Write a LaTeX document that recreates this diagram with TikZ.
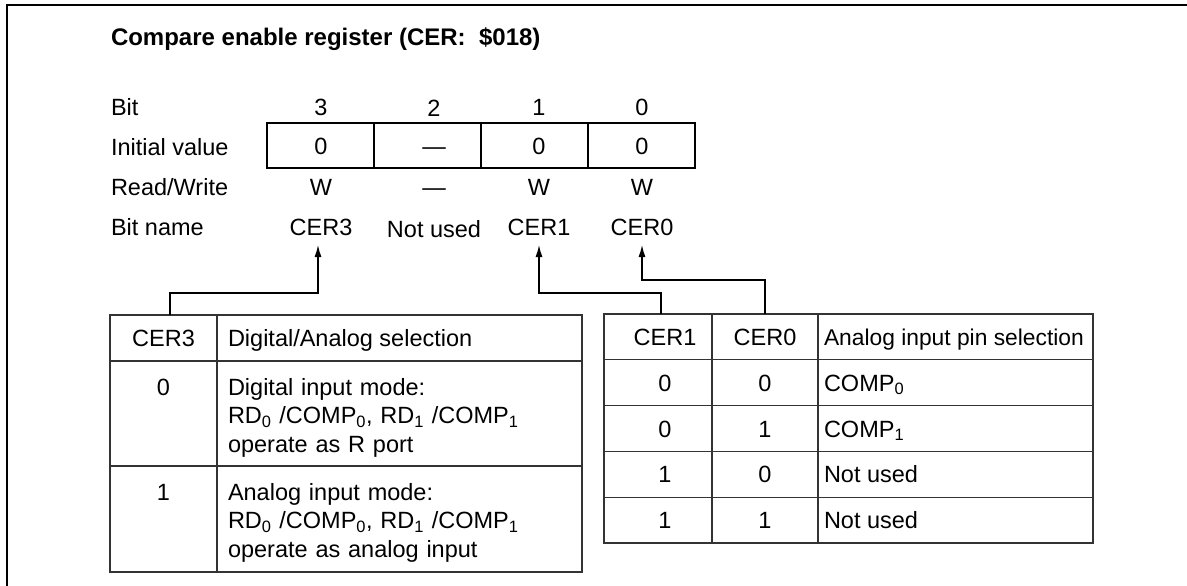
\documentclass[tikz,border=0pt]{standalone}
\usepackage{fontspec}
\setmainfont{Liberation Sans}
\usetikzlibrary{positioning, arrows.meta}

\newcommand{\lowidx}[1]{\textsubscript{#1}}

\begin{document}
\begin{tikzpicture}[
x=1pt, y=-1pt,
font=\fontsize{23.5}{28.5}\selectfont,
every node/.style={inner sep=0pt, outer sep=0pt, text height=17pt, text depth=0pt},
lbl/.style={anchor=base west},
val/.style={anchor=base},
namebox/.style={anchor=base, inner ysep=10pt},
cellleft/.style={anchor=west},
multi/.style={anchor=base west, text width=350pt, align=left},
regcell/.style={draw, line width=1.3pt, minimum width=107pt, minimum height=45pt},
tabcell/.style={draw=black!80, line width=1.3pt, minimum height=45.8pt},
conn/.style={-{Latex[length=12pt, width=7pt]}, line width=1.3pt},
frameline/.style={line width=2pt}
]
\useasboundingbox (0,0) rectangle (1187,586);

% frame, open on the right and at the bottom
\draw[frameline] (7,586) -- (7,5) -- (1187,5);

\node[lbl, font=\fontsize{24}{28.5}\selectfont\bfseries] (cer_title) at (111,46) {Compare enable register (CER:\ \ \$018)};

% rows and columns of the register
\coordinate (row_bit) at (0,115);
\coordinate (row_rw) at (0,195);
\coordinate (row_name) at (0,235);
\coordinate (col3) at (321,0);
\coordinate (col2) at (434,0);
\coordinate (col1) at (539,0);
\coordinate (col0) at (642,0);

\node[lbl] (cer_lbit) at (111,115) {Bit};
\node[lbl] (cer_linit) at (111,155) {Initial value};
\node[lbl] (cer_lrw) at (111,195) {Read/Write};
\node[lbl] (cer_lname) at (111,235) {Bit name};

\node[regcell, anchor=north west] (cer_reg3) at (267,123) {};
\node[regcell, right=0pt of cer_reg3] (cer_reg2) {};
\node[regcell, right=0pt of cer_reg2] (cer_reg1) {};
\node[regcell, right=0pt of cer_reg1] (cer_reg0) {};

\node[val] (cer_bit3) at (col3 |- row_bit) {3};
\node[val, yshift=-2pt] (cer_bit2) at (col2 |- row_bit) {2};
\node[val] (cer_bit1) at (col1 |- row_bit) {1};
\node[val] (cer_bit0) at (col0 |- row_bit) {0};

\node (cer_init3) at (col3 |- cer_reg3) {0};
\node (cer_init2) at (col2 |- cer_reg2) {—};
\node (cer_init1) at (col1 |- cer_reg1) {0};
\node (cer_init0) at (col0 |- cer_reg0) {0};

\node[val] (cer_rw3) at (col3 |- row_rw) {W};
\node[val] (cer_rw2) at (col2 |- row_rw) {—};
\node[val] (cer_rw1) at (col1 |- row_rw) {W};
\node[val] (cer_rw0) at (col0 |- row_rw) {W};

\node[namebox] (cer_name3) at (col3 |- row_name) {CER3};
\node[namebox, yshift=-2pt] (cer_name2) at (col2 |- row_name) {Not used};
\node[namebox] (cer_name1) at (col1 |- row_name) {CER1};
\node[namebox] (cer_name0) at (col0 |- row_name) {CER0};

% digital/analog selection table
\node[tabcell, minimum width=107pt, minimum height=46pt, anchor=north west] (sel_h1) at (110,315) {CER3};
\node[tabcell, minimum width=365pt, minimum height=46pt, right=0pt of sel_h1] (sel_h2) {};
\node[cellleft] (sel_htext) at ([xshift=11pt]sel_h2.west) {Digital/Analog selection};
\node[tabcell, minimum width=107pt, minimum height=105pt, below=0pt of sel_h1] (sel_r0a) {};
\node[tabcell, minimum width=365pt, minimum height=105pt, right=0pt of sel_r0a] (sel_r0b) {};
\node[tabcell, minimum width=107pt, minimum height=106pt, below=0pt of sel_r0a] (sel_r1a) {};
\node[tabcell, minimum width=365pt, minimum height=106pt, right=0pt of sel_r1a] (sel_r1b) {};
\node[val] (sel_v0) at ([yshift=-34pt]sel_r0a.north) {0};
\node[multi] (sel_t0) at ([xshift=11pt, yshift=-34pt]sel_r0b.north west) {Digital input mode:\\RD\lowidx{0} /COMP\lowidx{0}, RD\lowidx{1} /COMP\lowidx{1}\\operate as R port};
\node[val] (sel_v1) at ([yshift=-34pt]sel_r1a.north) {1};
\node[multi] (sel_t1) at ([xshift=11pt, yshift=-34pt]sel_r1b.north west) {Analog input mode:\\RD\lowidx{0} /COMP\lowidx{0}, RD\lowidx{1} /COMP\lowidx{1}\\operate as analog input};

% analog input pin selection table
\node[tabcell, minimum width=108pt, anchor=north west] (pin_h1) at (604,314) {};
\node[tabcell, minimum width=106pt, right=0pt of pin_h1] (pin_h0) {CER0};
\node[tabcell, minimum width=275pt, right=0pt of pin_h0] (pin_hs) {};
\node[tabcell, minimum width=108pt, below=0pt of pin_h1] (pin_a1) {};
\node[tabcell, minimum width=106pt, right=0pt of pin_a1] (pin_a0) {0};
\node[tabcell, minimum width=275pt, right=0pt of pin_a0] (pin_as) {};
\node[tabcell, minimum width=108pt, below=0pt of pin_a1] (pin_b1) {};
\node[tabcell, minimum width=106pt, right=0pt of pin_b1] (pin_b0) {1};
\node[tabcell, minimum width=275pt, right=0pt of pin_b0] (pin_bs) {};
\node[tabcell, minimum width=108pt, below=0pt of pin_b1] (pin_c1) {};
\node[tabcell, minimum width=106pt, right=0pt of pin_c1] (pin_c0) {0};
\node[tabcell, minimum width=275pt, right=0pt of pin_c0] (pin_cs) {};
\node[tabcell, minimum width=108pt, below=0pt of pin_c1] (pin_d1) {};
\node[tabcell, minimum width=106pt, right=0pt of pin_d1] (pin_d0) {1};
\node[tabcell, minimum width=275pt, right=0pt of pin_d0] (pin_ds) {};

\node (pin_vh) at ([xshift=7pt]pin_h1.center) {CER1};
\node (pin_va) at ([xshift=7pt]pin_a1.center) {0};
\node (pin_vb) at ([xshift=7pt]pin_b1.center) {0};
\node (pin_vc) at ([xshift=7pt]pin_c1.center) {1};
\node (pin_vd) at ([xshift=7pt]pin_d1.center) {1};

\node[cellleft, font=\fontsize{22.8}{28.5}\selectfont] (pin_th) at ([xshift=6pt]pin_hs.west) {Analog input pin selection};
\node[cellleft] (pin_ta) at ([xshift=6pt]pin_as.west) {COMP\lowidx{0}};
\node[cellleft] (pin_tb) at ([xshift=6pt]pin_bs.west) {COMP\lowidx{1}};
\node[cellleft] (pin_tc) at ([xshift=6pt]pin_cs.west) {Not used};
\node[cellleft] (pin_td) at ([xshift=6pt]pin_ds.west) {Not used};

% connectors from the tables up to the bit names
\draw[conn] ([xshift=6.5pt]sel_h1.north) -- ++(0,-22) -| ([xshift=-3pt]cer_name3.south);
\draw[conn] ([xshift=3pt]pin_h1.north) -- ++(0,-21) -| (cer_name1.south);
\draw[conn] (pin_h0.north) -- ++(0,-34) -| (cer_name0.south);

\end{tikzpicture}
\end{document}
